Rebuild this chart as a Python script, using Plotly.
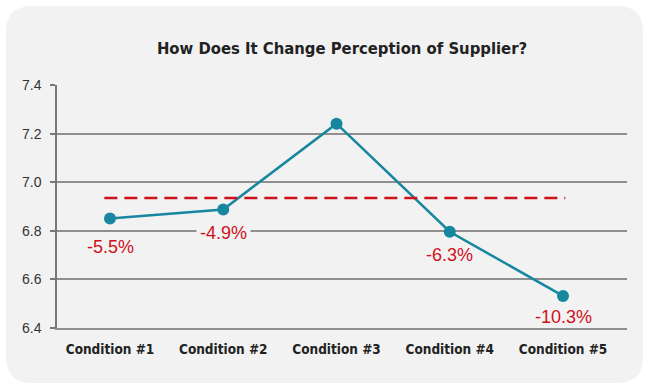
import plotly.graph_objects as go

categories = ["Condition #1", "Condition #2", "Condition #3", "Condition #4", "Condition #5"]
values = [6.851, 6.888, 7.241, 6.796, 6.532]
change_labels = ["-5.5%", "-4.9%", None, "-6.3%", "-10.3%"]
label_offsets = [-29, -24, 0, -23, -21]
label_masks = [False, True, False, False, False]
benchmark = 6.935
benchmark_span = [-0.05, 4.02]
y_ticks = [6.4, 6.6, 6.8, 7.0, 7.2, 7.4]

W, H = 650, 390
ML, MR, MT, MB = 57, 23, 85, 62
PW, PH = W - ML - MR, H - MT - MB

def px(x):
    return (x - ML) / PW

def py(y):
    return (H - MB - y) / PH

TEAL = "#17869f"
RED = "#d0101b"
GRID = "#8f8f8f"
BG = "#f2f2f2"
COND = "DejaVu Sans Condensed, Liberation Sans, Arial, sans-serif"

fig = go.Figure()
fig.add_trace(go.Scatter(
    x=categories, y=values, mode="lines+markers",
    line=dict(color=TEAL, width=2.5),
    marker=dict(color=TEAL, size=12),
    showlegend=False, hoverinfo="skip",
))

# rounded background panel
x0, x1, y0, y1, r = 6, 643, 6, 383, 26
path = (
    f"M {px(x0+r)},{py(y0)} L {px(x1-r)},{py(y0)} "
    f"Q {px(x1)},{py(y0)} {px(x1)},{py(y0+r)} "
    f"L {px(x1)},{py(y1-r)} Q {px(x1)},{py(y1)} {px(x1-r)},{py(y1)} "
    f"L {px(x0+r)},{py(y1)} Q {px(x0)},{py(y1)} {px(x0)},{py(y1-r)} "
    f"L {px(x0)},{py(y0+r)} Q {px(x0)},{py(y0)} {px(x0+r)},{py(y0)} Z"
)
shapes = [
    dict(type="path", path=path, xref="paper", yref="paper",
         fillcolor=BG, line=dict(width=0), layer="below"),
    dict(type="line", xref="x", yref="y",
         x0=benchmark_span[0], x1=benchmark_span[1], y0=benchmark, y1=benchmark,
         line=dict(color=RED, width=2.5, dash="13px,7px"), layer="above"),
]

annotations = []
for i, (lab, off, mask) in enumerate(zip(change_labels, label_offsets, label_masks)):
    if lab is None:
        continue
    annotations.append(dict(
        x=i, y=values[i], xref="x", yref="y", text=lab, showarrow=False,
        yshift=off, font=dict(family="Liberation Sans, Arial, sans-serif", size=18, color=RED),
        bgcolor=BG if mask else "rgba(0,0,0,0)", borderpad=3,
    ))

fig.update_layout(
    width=W, height=H,
    margin=dict(l=ML, r=MR, t=MT, b=MB),
    paper_bgcolor="white", plot_bgcolor="rgba(0,0,0,0)",
    title=dict(text="<b>How Does It Change Perception of Supplier?</b>",
               x=0.5, xref="paper", xanchor="center",
               y=1 - 48 / H, yref="container", yanchor="middle",
               font=dict(family=COND, size=16.5, color="#222")),
    shapes=shapes, annotations=annotations,
    xaxis=dict(type="category", range=[-0.468, 4.565], showgrid=False,
               showline=True, linecolor=GRID, linewidth=1.5, ticks="",
               tickfont=dict(family=COND, size=13.5, color="#222"),
               tickprefix="<b>", ticksuffix="</b>", ticklabelstandoff=8, fixedrange=True),
    yaxis=dict(range=[6.4, 7.4], tickvals=y_ticks, tickformat=".1f",
               showgrid=True, gridcolor=GRID, gridwidth=1.5, zeroline=False,
               showline=True, linecolor="#777", linewidth=1.5,
               ticks="outside", ticklen=5, tickcolor="#777", tickwidth=1.5,
               tickfont=dict(family="Liberation Sans, Arial, sans-serif", size=14, color="#333"),
               ticklabelstandoff=6, fixedrange=True),
)

fig.write_html("out.html", config={"displayModeBar": False},
               post_script="document.body.style.margin='0';")
